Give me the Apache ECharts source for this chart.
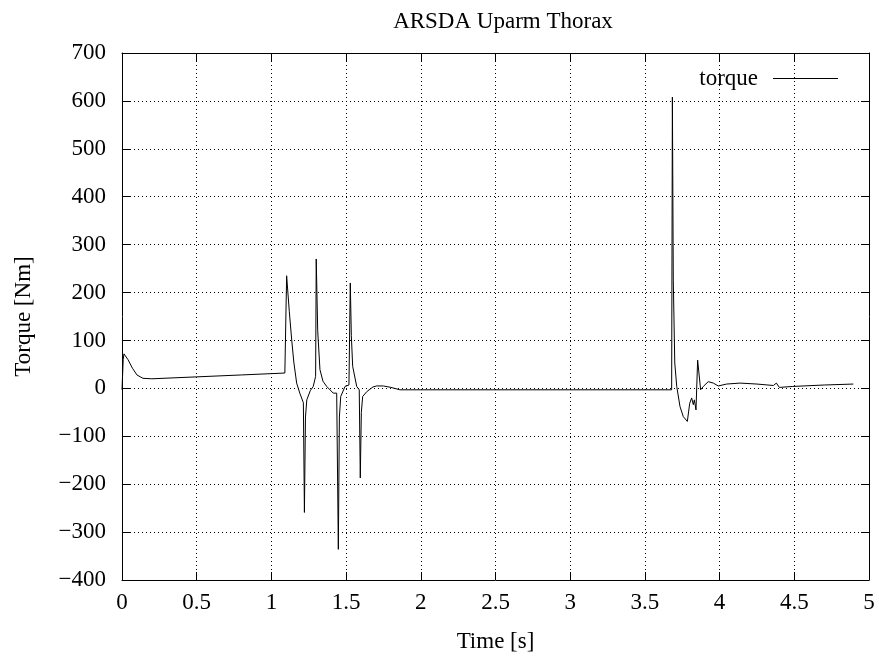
<!DOCTYPE html>
<html>
<head>
<meta charset="utf-8">
<script src="https://cdn.jsdelivr.net/npm/echarts@6/dist/echarts.min.js"></script>
<style>html,body{margin:0;padding:0;background:#fff;}#c{width:879px;height:658px;}</style>
</head>
<body>
<div id="c"></div>
<script>
const titleText = 'ARSDA Uparm Thorax';
const xName = 'Time [s]';
const yName = 'Torque [Nm]';
const seriesName = 'torque';
const time = [0, 0.008, 0.013, 0.02, 0.04, 0.07, 0.1, 0.14, 0.2, 0.5, 0.8, 1.09, 1.095, 1.102, 1.12, 1.136, 1.15, 1.169, 1.19, 1.214, 1.221, 1.228, 1.237, 1.26, 1.28, 1.296, 1.30, 1.31, 1.325, 1.345, 1.37, 1.414, 1.437, 1.448, 1.455, 1.464, 1.493, 1.519, 1.528, 1.535, 1.544, 1.571, 1.588, 1.595, 1.602, 1.611, 1.638, 1.68, 1.705, 1.75, 1.8, 1.86, 2.0, 3.0, 3.679, 3.684, 3.69, 3.70, 3.713, 3.735, 3.757, 3.784, 3.80, 3.813, 3.824, 3.831, 3.842, 3.853, 3.864, 3.873, 3.891, 3.924, 3.958, 3.991, 4.047, 4.136, 4.25, 4.36, 4.38, 4.40, 4.49, 4.7, 4.895];
const torque = [-3, 60, 72, 73, 60, 42, 28, 21, 20, 24, 28, 32, 32, 235, 160, 101, 55, 11, -10, -30, -259, -60, -24, -5, 4, 25, 270, 120, 39, 15, 4, -10, -10, -336, -60, -17, 4, 7, 220, 110, 46, 4, -3, -187, -50, -17, -7, 3, 5, 5, 2, -3, -3, -3, -3, 608, 226, 53, 4, -38, -59, -69, -31, -20, -34, -24, -45, 59, 59, -3, 4, 14, 11, 5, 9, 11, 9, 6, 11, 2, 4, 7, 9];
const xMin = 0, xMax = 5, xStep = 0.5;
const yMin = -400, yMax = 700, yStep = 100;

const font = 'Liberation Serif';
const fs = 23;
const chart = echarts.init(document.getElementById('c'));
const pts = time.map((t, i) => [t, torque[i]]);
const tick = {show: true, inside: true, length: 8, lineStyle: {color: '#000', width: 1}};
const axLine = {show: true, onZero: false, lineStyle: {color: '#000', width: 1}};
const grid = {show: true, lineStyle: {color: '#000', type: [1, 3], width: 1}};
chart.setOption({
  animation: false,
  backgroundColor: '#fff',
  title: {text: titleText, left: 498, top: 5, textAlign: 'center',
    textStyle: {fontFamily: font, fontSize: fs, fontWeight: 'normal', color: '#000'}},
  legend: {right: 36, top: 62, align: 'right', icon: 'rect', itemWidth: 65, itemHeight: 1.2,
    textStyle: {fontFamily: font, fontSize: fs, color: '#000', padding: [0, 10, 0, 0]},
    data: [seriesName]},
  grid: {left: 122, right: 10, top: 53, bottom: 78},
  xAxis: [
    {type: 'value', min: xMin, max: xMax, interval: xStep, position: 'bottom',
     name: xName, nameLocation: 'middle', nameGap: 50,
     nameTextStyle: {fontFamily: font, fontSize: fs, color: '#000'},
     axisLine: axLine, axisTick: tick, splitLine: grid,
     axisLabel: {fontFamily: font, fontSize: fs, color: '#000', margin: 11}},
    {type: 'value', min: xMin, max: xMax, interval: xStep, position: 'top',
     axisLine: axLine, axisTick: tick, splitLine: {show: false}, axisLabel: {show: false}}
  ],
  yAxis: [
    {type: 'value', min: yMin, max: yMax, interval: yStep, position: 'left',
     name: yName, nameLocation: 'middle', nameGap: 87,
     nameTextStyle: {fontFamily: font, fontSize: fs, color: '#000'},
     axisLine: axLine, axisTick: tick, splitLine: grid,
     axisLabel: {fontFamily: font, fontSize: fs, color: '#000', margin: 16,
       formatter: v => String(v).replace('-', '\u2212')}},
    {type: 'value', min: yMin, max: yMax, interval: yStep, position: 'right',
     axisLine: axLine, axisTick: tick, splitLine: {show: false}, axisLabel: {show: false}}
  ],
  series: [{
    name: seriesName, type: 'line', data: pts, showSymbol: false, symbol: 'none',
    lineStyle: {color: '#000', width: 1}, itemStyle: {color: '#000'}
  }]
});
</script>
</body>
</html>
